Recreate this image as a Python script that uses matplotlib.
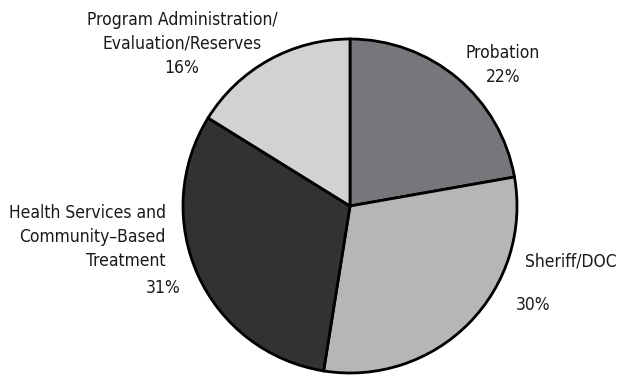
import matplotlib
matplotlib.use("Agg")
import matplotlib.pyplot as plt

labels = ["Probation", "Sheriff/DOC", "Health Services and\nCommunity\u2013Based\nTreatment",
          "Program Administration/\nEvaluation/Reserves"]
shares = [22, 30, 31, 16]
colors = ["#77777b", "#b5b6b8", "#333132", "#d1d2d4"]

plt.rcParams['font.family'] = ['DejaVu Sans']

W, H = 619, 377
fig = plt.figure(figsize=(W / 100, H / 100), dpi=100)

# pie centre and radius in pixels
cx, cy, r = 350, 206, 167
ax = fig.add_axes([(cx - r) / W, (H - cy - r) / H, 2 * r / W, 2 * r / H])
ax.pie(shares, colors=colors, startangle=90, counterclock=False, radius=1,
       wedgeprops=dict(edgecolor="black", linewidth=2))
ax.set_xlim(-1, 1)
ax.set_ylim(-1, 1)
ax.set_aspect("equal")
ax.axis("off")


def put(px, py, s, ha="center"):
    fig.text(px / W, 1 - py / H, s, ha=ha, va="center", fontsize=12.5,
             fontstretch="condensed", color="#1a1a1a", linespacing=1.45)


# Program Administration
put(182, 44, labels[3] + "\n%d%%" % shares[3])
# Probation
put(503, 65, labels[0] + "\n%d%%" % shares[0])
# Health Services
put(166, 237, labels[2], ha="right")
put(181, 288, "%d%%" % shares[2], ha="right")
# Sheriff/DOC
put(525, 262, labels[1], ha="left")
put(516, 305, "%d%%" % shares[1], ha="left")

fig.savefig("out.png", dpi=100)
